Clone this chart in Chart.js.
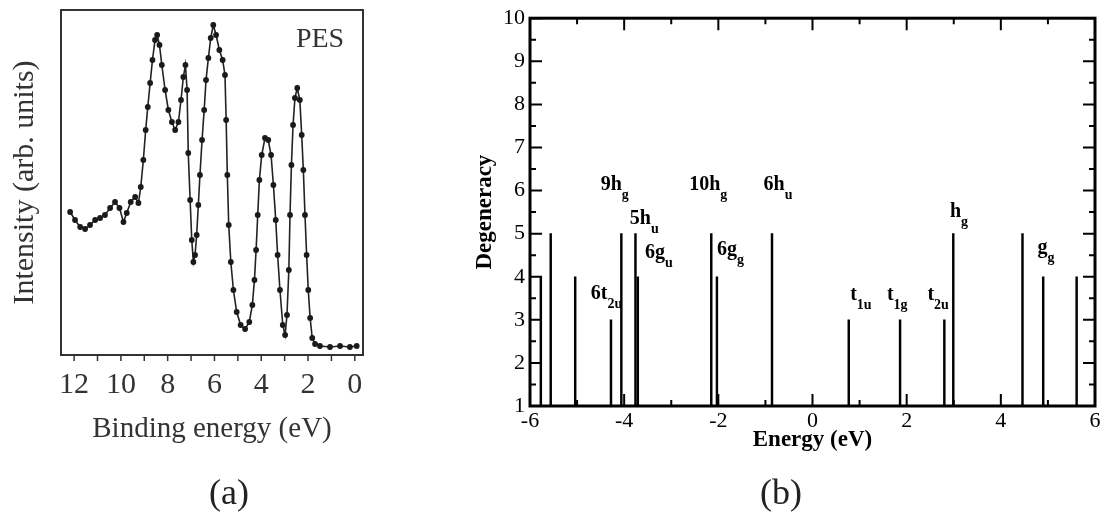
<!DOCTYPE html>
<html>
<head>
<meta charset="utf-8">
<script src="https://cdn.jsdelivr.net/npm/chart.js@4"></script>
<style>
  body { margin: 0; background: #fff; }
  #wrap { position: relative; width: 1103px; height: 519px; }
  .box { position: absolute; top: 0; height: 519px; }
  .cap { position: absolute; font-family: "Liberation Serif", serif; font-size: 36px; color: #222; transform: translate(-50%, -50%); }
</style>
</head>
<body>
<div id="wrap">
  <div class="box" style="left:0;width:380px"><canvas id="pesChart"></canvas></div>
  <div class="box" style="left:460px;width:643px"><canvas id="levelChart"></canvas></div>
  <div class="cap" style="left:229px;top:492px">(a)</div>
  <div class="cap" style="left:781px;top:492px">(b)</div>
</div>
<script>
// panel (a): PES spectrum
const bindingEnergy = [12.17, 11.96, 11.74, 11.53, 11.32, 11.10, 10.89, 10.68, 10.46, 10.25, 10.06, 9.89, 9.75, 9.58, 9.39, 9.25, 9.15, 9.04, 8.94, 8.85, 8.75, 8.65, 8.54, 8.45, 8.35, 8.25, 8.11, 7.97, 7.82, 7.68, 7.54, 7.43, 7.33, 7.24, 7.17, 7.12, 7.04, 6.97, 6.90, 6.83, 6.76, 6.69, 6.62, 6.53, 6.44, 6.36, 6.26, 6.16, 6.05, 5.93, 5.79, 5.65, 5.55, 5.50, 5.45, 5.39, 5.30, 5.19, 5.05, 4.88, 4.69, 4.51, 4.38, 4.29, 4.22, 4.15, 4.08, 3.98, 3.84, 3.70, 3.58, 3.48, 3.38, 3.30, 3.20, 3.08, 2.98, 2.90, 2.82, 2.77, 2.71, 2.64, 2.56, 2.46, 2.35, 2.27, 2.20, 2.13, 2.06, 1.99, 1.91, 1.82, 1.70, 1.49, 1.06, 0.63, 0.21, -0.08];
const intensity = [143, 135, 128, 126, 130, 135, 137, 140, 147, 153, 147, 133, 142, 153, 158, 152, 168, 195, 225, 248, 272, 295, 315, 320, 310, 290, 265, 245, 233, 225, 233, 255, 278, 290, 265, 202, 155, 115, 93, 100, 120, 150, 180, 215, 245, 275, 297, 317, 330, 320, 305, 295, 280, 235, 180, 130, 93, 65, 43, 30, 26, 33, 50, 75, 105, 140, 175, 200, 217, 215, 200, 170, 135, 100, 65, 30, 20, 40, 85, 140, 190, 230, 257, 267, 255, 220, 185, 140, 100, 65, 37, 17, 11, 9, 8, 9, 8, 9];
const pesTicks = [12, 10, 8, 6, 4, 2, 0];
const pesMinorTicks = [12, 11, 10, 9, 8, 7, 6, 5, 4, 3, 2, 1, 0];

// panel (b): level degeneracies
const energies = [-5.77, -5.56, -5.04, -4.28, -4.06, -3.76, -3.71, -2.15, -2.03, -0.86, 0.77, 1.86, 2.80, 2.99, 4.46, 4.90, 5.61];
const degeneracy = [4, 5, 4, 3, 5, 5, 4, 5, 4, 5, 3, 3, 3, 5, 5, 4, 4];
const energyTicks = [-6, -4, -2, 0, 2, 4, 6];
const degTicks = [1, 2, 3, 4, 5, 6, 7, 8, 9, 10];

// level labels (main text + subscript), anchored in data units
const labelMain = ["6t", "9h", "5h", "6g", "10h", "6g", "6h", "t", "t", "t", "h", "g"];
const labelSub = ["2u", "g", "u", "u", "g", "g", "u", "1u", "1g", "2u", "g", "g"];
const labelE = [-4.71, -4.50, -3.88, -3.56, -2.62, -2.03, -1.04, 0.80, 1.58, 2.44, 2.92, 4.78];
const labelDeg = [3.48, 6.02, 5.23, 4.43, 6.02, 4.51, 6.02, 3.45, 3.45, 3.45, 5.38, 4.55];

const serif = "Liberation Serif";
const scanInk = "#333";

const pesFrame = {
  id: "pesFrame",
  afterDraw(chart) {
    const { ctx, chartArea: a, scales } = chart;
    ctx.save();
    ctx.strokeStyle = scanInk;
    ctx.lineWidth = 2;
    ctx.strokeRect(a.left, a.top, a.right - a.left, a.bottom - a.top);
    ctx.lineWidth = 1.5;
    pesMinorTicks.forEach(v => {
      const x = scales.x.getPixelForValue(v);
      ctx.beginPath();
      ctx.moveTo(x, a.bottom);
      ctx.lineTo(x, a.bottom + 6);
      ctx.stroke();
    });
    ctx.fillStyle = scanInk;
    ctx.font = "28px " + serif;
    ctx.textAlign = "center";
    ctx.textBaseline = "middle";
    ctx.fillText("PES", a.right - 43, a.top + 30);
    ctx.restore();
  }
};

new Chart(document.getElementById("pesChart"), {
  type: "line",
  data: {
    datasets: [
      {
        data: bindingEnergy.map((e, i) => ({ x: e, y: intensity[i] })),
        borderColor: "#222",
        borderWidth: 1.6,
        pointRadius: 2.9,
        pointBackgroundColor: "#1a1a1a",
        pointBorderWidth: 0,
        tension: 0,
      },
    ],
  },
  options: {
    responsive: true,
    maintainAspectRatio: false,
    animation: false,
    layout: { padding: { left: 0, top: 10, right: 17, bottom: 0 } },
    plugins: { legend: { display: false }, tooltip: { enabled: false } },
    scales: {
      x: {
        type: "linear",
        reverse: true,
        min: -0.35,
        max: 12.56,
        afterBuildTicks: s => { s.ticks = pesTicks.map(v => ({ value: v })); },
        afterFit: s => { s.height = 164; },
        grid: { display: false, drawTicks: false },
        border: { display: false },
        ticks: { color: scanInk, padding: 12, font: { family: serif, size: 30 } },
        title: {
          display: true,
          text: "Binding energy (eV)",
          color: scanInk,
          font: { family: serif, size: 29 },
          padding: { bottom: 72 },
        },
      },
      y: {
        min: 0,
        max: 345,
        afterFit: s => { s.width = 61; },
        grid: { display: false, drawTicks: false },
        border: { display: false },
        ticks: { display: false },
        title: {
          display: true,
          text: "Intensity (arb. units)",
          color: scanInk,
          font: { family: serif, size: 30 },
          padding: { top: 7 },
        },
      },
    },
  },
  plugins: [pesFrame],
});

const levelFrame = {
  id: "levelFrame",
  afterDraw(chart) {
    const { ctx, chartArea: a, scales } = chart;
    ctx.save();
    ctx.strokeStyle = "#000";
    ctx.lineWidth = 2;
    for (let v = -6; v <= 6; v += 1) {
      const x = scales.x.getPixelForValue(v);
      const len = v % 2 === 0 ? 12 : 6;
      ctx.beginPath();
      ctx.moveTo(x, a.top); ctx.lineTo(x, a.top + len);
      ctx.moveTo(x, a.bottom); ctx.lineTo(x, a.bottom - len);
      ctx.stroke();
    }
    for (let v = 1; v <= 10; v += 0.5) {
      const y = scales.y.getPixelForValue(v);
      const len = Number.isInteger(v) ? 12 : 6;
      ctx.beginPath();
      ctx.moveTo(a.left, y); ctx.lineTo(a.left + len, y);
      ctx.moveTo(a.right, y); ctx.lineTo(a.right - len, y);
      ctx.stroke();
    }
    ctx.lineWidth = 3;
    ctx.strokeRect(a.left, a.top, a.right - a.left, a.bottom - a.top);

    ctx.fillStyle = "#000";
    ctx.textAlign = "left";
    ctx.textBaseline = "alphabetic";
    labelMain.forEach((m, i) => {
      const x = scales.x.getPixelForValue(labelE[i]);
      const y = scales.y.getPixelForValue(labelDeg[i]);
      ctx.font = "bold 20px " + serif;
      ctx.fillText(m, x, y);
      const w = ctx.measureText(m).width;
      ctx.font = "bold 14px " + serif;
      ctx.fillText(labelSub[i], x + w, y + 9);
    });
    ctx.restore();
  }
};

new Chart(document.getElementById("levelChart"), {
  type: "bar",
  data: {
    datasets: [
      {
        data: energies.map((e, i) => ({ x: e, y: degeneracy[i] })),
        backgroundColor: "#000",
        barThickness: 1.8,
        base: 1,
      },
    ],
  },
  options: {
    responsive: true,
    maintainAspectRatio: false,
    animation: false,
    layout: { padding: { left: 0, top: 10, right: 8, bottom: 0 } },
    plugins: { legend: { display: false }, tooltip: { enabled: false } },
    scales: {
      x: {
        type: "linear",
        min: -6,
        max: 6,
        offset: false,
        afterBuildTicks: s => { s.ticks = energyTicks.map(v => ({ value: v })); },
        afterFit: s => { s.height = 113; },
        grid: { display: false, drawTicks: false },
        border: { display: false },
        ticks: { color: "#000", padding: 2, font: { family: serif, size: 22 } },
        title: {
          display: true,
          text: "Energy (eV)",
          color: "#000",
          font: { family: serif, size: 23, weight: "bold" },
          padding: { bottom: 65 },
        },
      },
      y: {
        min: 1,
        max: 10,
        afterBuildTicks: s => { s.ticks = degTicks.map(v => ({ value: v })); },
        afterFit: s => { s.width = 70; },
        grid: { display: false, drawTicks: false },
        border: { display: false },
        ticks: { color: "#000", padding: 5, font: { family: serif, size: 22 } },
        title: {
          display: true,
          text: "Degeneracy",
          color: "#000",
          font: { family: serif, size: 23, weight: "bold" },
          padding: { top: 11 },
        },
      },
    },
  },
  plugins: [levelFrame],
});
</script>
</body>
</html>
